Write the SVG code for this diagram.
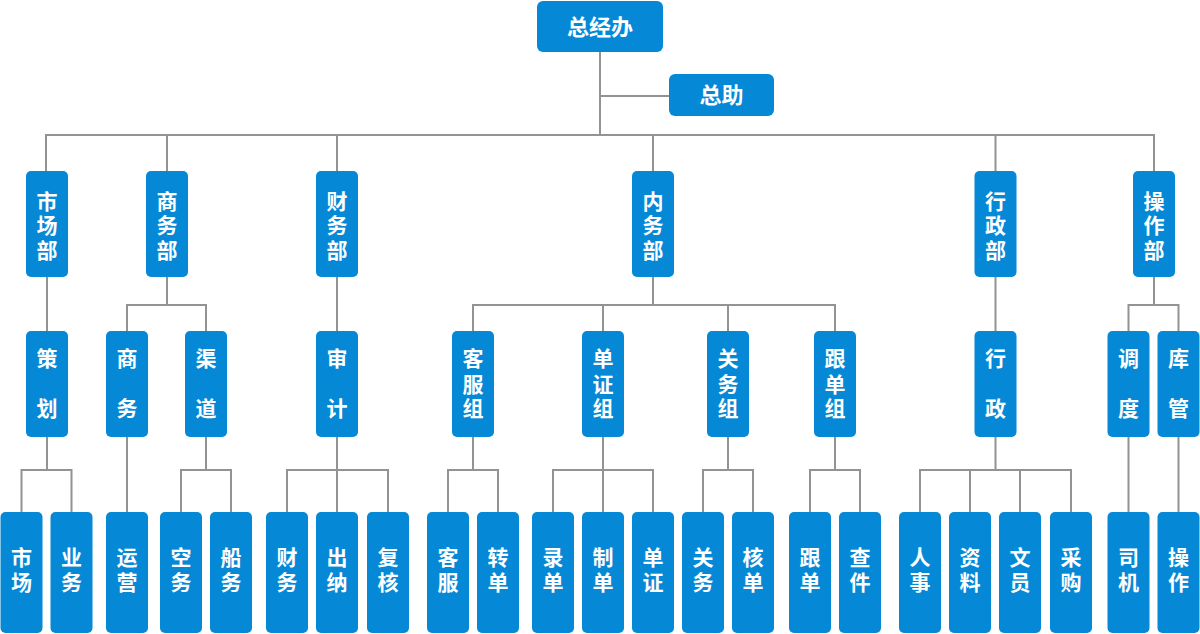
<svg xmlns="http://www.w3.org/2000/svg" width="1200" height="634" viewBox="0 0 1200 634">
<style>
.b{fill:#0589d6;}
.t{fill:#fff;font-family:"Noto Sans CJK SC","Noto Sans",sans-serif;font-weight:bold;font-size:21px;text-anchor:middle;}
.c{fill:none;stroke:#939393;stroke-width:2;}
</style>
<rect width="1200" height="634" fill="#fff"/>
<g id="connectors" class="c">
<path d="M600 52V135M600 96H669M46 171V135H1154V171M167 135V171M337 135V171M653 135V171M995.5 135V171"/>
<path d="M47 277V331M167 277V305M127 331V305H206V331M337 277V331M653 277V305M473 331V305H835V331M603 305V331M728 305V331M995.5 277V331M1154 277V305M1128.5 331V305H1178.5V331"/>
<path d="M47 437V470M21.5 512V470H71.5V512M127 437V512M206 437V470M181 512V470H231V512M337 437V512M287 512V470H388V512"/>
<path d="M473 437V470M448 512V470H498V512M603 437V512M553 512V470H653V512M728 437V470M703 512V470H753V512M835 437V470M810 512V470H860V512"/>
<path d="M995.5 437V470M920 512V470H1071V512M970 470V512M1020 470V512M1128.5 437V512M1178.5 437V512"/>
</g>
<g id="n-zjb"><rect class="b" x="537" y="1" width="126" height="51" rx="6"/><text class="t" x="600" y="35" style="font-size:22px">总经办</text></g>
<g id="n-zz"><rect class="b" x="669" y="74" width="105" height="42" rx="6"/><text class="t" x="721.5" y="103" style="font-size:22px">总助</text></g>
<g id="n-scb"><rect class="b" x="26" y="171" width="42" height="106" rx="5"/><text class="t" x="47"><tspan x="47" y="209">市</tspan><tspan x="47" y="233">场</tspan><tspan x="47" y="258">部</tspan></text></g>
<g id="n-swb"><rect class="b" x="146" y="171" width="42" height="106" rx="5"/><text class="t" x="167"><tspan x="167" y="209">商</tspan><tspan x="167" y="233">务</tspan><tspan x="167" y="258">部</tspan></text></g>
<g id="n-cwb"><rect class="b" x="316" y="171" width="42" height="106" rx="5"/><text class="t" x="337"><tspan x="337" y="209">财</tspan><tspan x="337" y="233">务</tspan><tspan x="337" y="258">部</tspan></text></g>
<g id="n-nwb"><rect class="b" x="632" y="171" width="42" height="106" rx="5"/><text class="t" x="653"><tspan x="653" y="209">内</tspan><tspan x="653" y="233">务</tspan><tspan x="653" y="258">部</tspan></text></g>
<g id="n-xzb"><rect class="b" x="974.5" y="171" width="42" height="106" rx="5"/><text class="t" x="995.5"><tspan x="995.5" y="209">行</tspan><tspan x="995.5" y="233">政</tspan><tspan x="995.5" y="258">部</tspan></text></g>
<g id="n-czb"><rect class="b" x="1133" y="171" width="42" height="106" rx="5"/><text class="t" x="1154"><tspan x="1154" y="209">操</tspan><tspan x="1154" y="233">作</tspan><tspan x="1154" y="258">部</tspan></text></g>
<g id="n-ch"><rect class="b" x="26" y="331" width="42" height="106" rx="5"/><text class="t" x="47"><tspan x="47" y="366">策</tspan><tspan x="47" y="416">划</tspan></text></g>
<g id="n-sw"><rect class="b" x="106" y="331" width="42" height="106" rx="5"/><text class="t" x="127"><tspan x="127" y="366">商</tspan><tspan x="127" y="416">务</tspan></text></g>
<g id="n-qd"><rect class="b" x="185" y="331" width="42" height="106" rx="5"/><text class="t" x="206"><tspan x="206" y="366">渠</tspan><tspan x="206" y="416">道</tspan></text></g>
<g id="n-sj"><rect class="b" x="316" y="331" width="42" height="106" rx="5"/><text class="t" x="337"><tspan x="337" y="366">审</tspan><tspan x="337" y="416">计</tspan></text></g>
<g id="n-kfz"><rect class="b" x="452" y="331" width="42" height="106" rx="5"/><text class="t" x="473"><tspan x="473" y="366">客</tspan><tspan x="473" y="392">服</tspan><tspan x="473" y="416">组</tspan></text></g>
<g id="n-dzz"><rect class="b" x="582" y="331" width="42" height="106" rx="5"/><text class="t" x="603"><tspan x="603" y="366">单</tspan><tspan x="603" y="392">证</tspan><tspan x="603" y="416">组</tspan></text></g>
<g id="n-gwz"><rect class="b" x="707" y="331" width="42" height="106" rx="5"/><text class="t" x="728"><tspan x="728" y="366">关</tspan><tspan x="728" y="392">务</tspan><tspan x="728" y="416">组</tspan></text></g>
<g id="n-gdz"><rect class="b" x="814" y="331" width="42" height="106" rx="5"/><text class="t" x="835"><tspan x="835" y="366">跟</tspan><tspan x="835" y="392">单</tspan><tspan x="835" y="416">组</tspan></text></g>
<g id="n-xz"><rect class="b" x="974.5" y="331" width="42" height="106" rx="5"/><text class="t" x="995.5"><tspan x="995.5" y="366">行</tspan><tspan x="995.5" y="416">政</tspan></text></g>
<g id="n-dd"><rect class="b" x="1107.5" y="331" width="42" height="106" rx="5"/><text class="t" x="1128.5"><tspan x="1128.5" y="366">调</tspan><tspan x="1128.5" y="416">度</tspan></text></g>
<g id="n-kg"><rect class="b" x="1157.5" y="331" width="42" height="106" rx="5"/><text class="t" x="1178.5"><tspan x="1178.5" y="366">库</tspan><tspan x="1178.5" y="416">管</tspan></text></g>
<g id="n-l4-1"><rect class="b" x="0.5" y="512" width="42" height="121" rx="5"/><text class="t"><tspan x="21.5" y="565">市</tspan><tspan x="21.5" y="590">场</tspan></text></g>
<g id="n-l4-2"><rect class="b" x="50.5" y="512" width="42" height="121" rx="5"/><text class="t"><tspan x="71.5" y="565">业</tspan><tspan x="71.5" y="590">务</tspan></text></g>
<g id="n-l4-3"><rect class="b" x="106" y="512" width="42" height="121" rx="5"/><text class="t"><tspan x="127" y="565">运</tspan><tspan x="127" y="590">营</tspan></text></g>
<g id="n-l4-4"><rect class="b" x="160" y="512" width="42" height="121" rx="5"/><text class="t"><tspan x="181" y="565">空</tspan><tspan x="181" y="590">务</tspan></text></g>
<g id="n-l4-5"><rect class="b" x="210" y="512" width="42" height="121" rx="5"/><text class="t"><tspan x="231" y="565">船</tspan><tspan x="231" y="590">务</tspan></text></g>
<g id="n-l4-6"><rect class="b" x="266" y="512" width="42" height="121" rx="5"/><text class="t"><tspan x="287" y="565">财</tspan><tspan x="287" y="590">务</tspan></text></g>
<g id="n-l4-7"><rect class="b" x="316" y="512" width="42" height="121" rx="5"/><text class="t"><tspan x="337" y="565">出</tspan><tspan x="337" y="590">纳</tspan></text></g>
<g id="n-l4-8"><rect class="b" x="367" y="512" width="42" height="121" rx="5"/><text class="t"><tspan x="388" y="565">复</tspan><tspan x="388" y="590">核</tspan></text></g>
<g id="n-l4-9"><rect class="b" x="427" y="512" width="42" height="121" rx="5"/><text class="t"><tspan x="448" y="565">客</tspan><tspan x="448" y="590">服</tspan></text></g>
<g id="n-l4-10"><rect class="b" x="477" y="512" width="42" height="121" rx="5"/><text class="t"><tspan x="498" y="565">转</tspan><tspan x="498" y="590">单</tspan></text></g>
<g id="n-l4-11"><rect class="b" x="532" y="512" width="42" height="121" rx="5"/><text class="t"><tspan x="553" y="565">录</tspan><tspan x="553" y="590">单</tspan></text></g>
<g id="n-l4-12"><rect class="b" x="582" y="512" width="42" height="121" rx="5"/><text class="t"><tspan x="603" y="565">制</tspan><tspan x="603" y="590">单</tspan></text></g>
<g id="n-l4-13"><rect class="b" x="632" y="512" width="42" height="121" rx="5"/><text class="t"><tspan x="653" y="565">单</tspan><tspan x="653" y="590">证</tspan></text></g>
<g id="n-l4-14"><rect class="b" x="682" y="512" width="42" height="121" rx="5"/><text class="t"><tspan x="703" y="565">关</tspan><tspan x="703" y="590">务</tspan></text></g>
<g id="n-l4-15"><rect class="b" x="732" y="512" width="42" height="121" rx="5"/><text class="t"><tspan x="753" y="565">核</tspan><tspan x="753" y="590">单</tspan></text></g>
<g id="n-l4-16"><rect class="b" x="789" y="512" width="42" height="121" rx="5"/><text class="t"><tspan x="810" y="565">跟</tspan><tspan x="810" y="590">单</tspan></text></g>
<g id="n-l4-17"><rect class="b" x="839" y="512" width="42" height="121" rx="5"/><text class="t"><tspan x="860" y="565">查</tspan><tspan x="860" y="590">件</tspan></text></g>
<g id="n-l4-18"><rect class="b" x="899" y="512" width="42" height="121" rx="5"/><text class="t"><tspan x="920" y="565">人</tspan><tspan x="920" y="590">事</tspan></text></g>
<g id="n-l4-19"><rect class="b" x="949" y="512" width="42" height="121" rx="5"/><text class="t"><tspan x="970" y="565">资</tspan><tspan x="970" y="590">料</tspan></text></g>
<g id="n-l4-20"><rect class="b" x="999" y="512" width="42" height="121" rx="5"/><text class="t"><tspan x="1020" y="565">文</tspan><tspan x="1020" y="590">员</tspan></text></g>
<g id="n-l4-21"><rect class="b" x="1050" y="512" width="42" height="121" rx="5"/><text class="t"><tspan x="1071" y="565">采</tspan><tspan x="1071" y="590">购</tspan></text></g>
<g id="n-l4-22"><rect class="b" x="1107.5" y="512" width="42" height="121" rx="5"/><text class="t"><tspan x="1128.5" y="565">司</tspan><tspan x="1128.5" y="590">机</tspan></text></g>
<g id="n-l4-23"><rect class="b" x="1157.5" y="512" width="42" height="121" rx="5"/><text class="t"><tspan x="1178.5" y="565">操</tspan><tspan x="1178.5" y="590">作</tspan></text></g>
</svg>
